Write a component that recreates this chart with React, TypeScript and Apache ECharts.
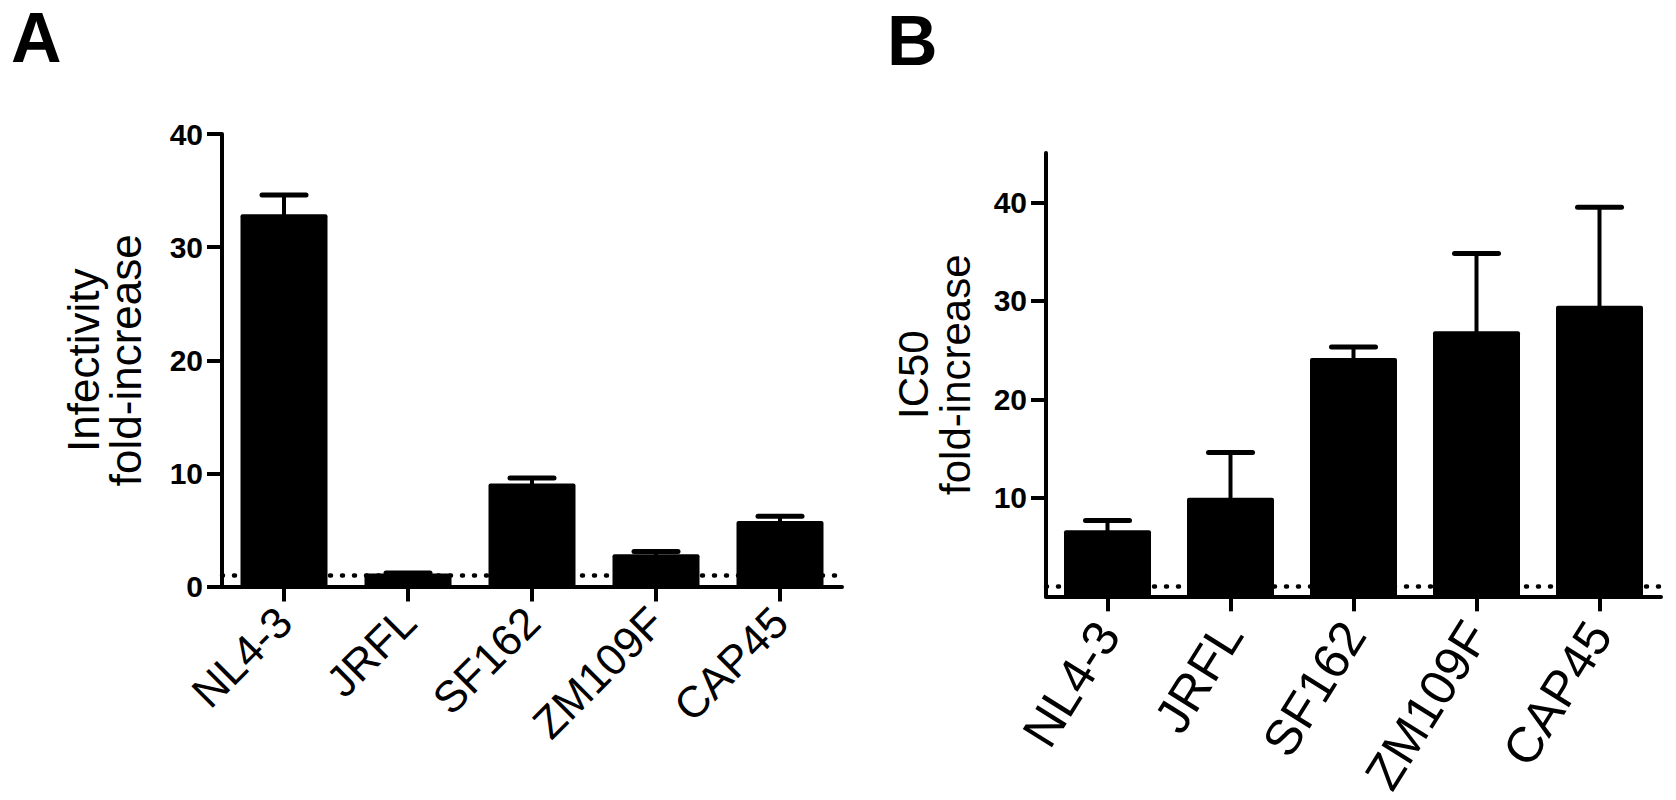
import React, { useEffect, useRef } from "react";
import * as echarts from "echarts";

const categories = ["NL4-3", "JRFL", "SF162", "ZM109F", "CAP45"];
const infectivityMean = [32.9, 1.15, 9.1, 2.85, 5.8];
const infectivityErr = [1.7, 0.05, 0.5, 0.25, 0.4];
const ic50Mean = [6.7, 10.0, 24.2, 26.9, 29.5];
const ic50Err = [1.0, 4.6, 1.1, 7.9, 10.0];
const yTicksA = [0, 10, 20, 30, 40];
const yTicksB = [10, 20, 30, 40];
const BASELINE = 1;

const FONT = "Liberation Sans, Arial, Helvetica, sans-serif";

const errRender = (params: any, api: any) => {
  const i = api.value(0);
  const mean = api.value(1);
  const err = api.value(2);
  const base = api.coord([i, mean]);
  const top = api.coord([i, mean + err]);
  const half = 22;
  return {
    type: "group",
    children: [
      {
        type: "line",
        shape: { x1: top[0], y1: base[1] + 2, x2: top[0], y2: top[1] },
        style: { stroke: "#000", lineWidth: 4 },
      },
      {
        type: "line",
        shape: { x1: top[0] - half, y1: top[1], x2: top[0] + half, y2: top[1] },
        style: { stroke: "#000", lineWidth: 5, lineCap: "round" },
      },
    ],
  };
};

function xAxisFor(gridIndex: number, rotate: number, fontSize: number, margin: number) {
  return {
    gridIndex,
    type: "category",
    data: categories,
    axisLine: { show: true, lineStyle: { color: "#000", width: 4 } },
    axisTick: { show: true, alignWithLabel: true, interval: 0, length: 15, lineStyle: { color: "#000", width: 4 } },
    axisLabel: { interval: 0, rotate, fontSize, color: "#000", fontFamily: FONT, margin },
    splitLine: { show: false },
  };
}

function yAxisFor(gridIndex: number, max: number, ticks: number[], name: string, nameGap: number, nameSize: number) {
  return {
    gridIndex,
    type: "value",
    min: 0,
    max,
    interval: 10,
    splitLine: { show: false },
    axisLine: { show: true, lineStyle: { color: "#000", width: 4 } },
    axisTick: { show: true, length: 15, customValues: ticks, lineStyle: { color: "#000", width: 4 } },
    axisLabel: { customValues: ticks, fontSize: 30, fontWeight: "bold", color: "#000", fontFamily: FONT, margin: 19 },
    name,
    nameLocation: "middle",
    nameRotate: 90,
    nameGap,
    nameTextStyle: { fontSize: nameSize, lineHeight: 42, color: "#000", fontFamily: FONT },
  };
}

function seriesFor(idx: number, mean: number[], err: number[]) {
  return [
    {
      type: "bar",
      xAxisIndex: idx,
      yAxisIndex: idx,
      data: mean,
      barWidth: 87,
      z: 3,
      itemStyle: { color: "#000", borderRadius: 2 },
      markLine: {
        z: 1,
        silent: true,
        symbol: ["none", "none"],
        label: { show: false },
        lineStyle: { color: "#000", type: [1, 11], width: 4.5, cap: "round" },
        data: [{ yAxis: BASELINE }],
      },
    },
    {
      type: "custom",
      xAxisIndex: idx,
      yAxisIndex: idx,
      z: 4,
      renderItem: errRender,
      encode: { x: 0, y: 1 },
      data: categories.map((_, i) => [i, mean[i], err[i]]),
    },
  ];
}

export default function App() {
  const ref = useRef<HTMLDivElement>(null);
  useEffect(() => {
    document.body.style.margin = "0";
    const chart = echarts.init(ref.current!, null, { renderer: "svg" });
    chart.setOption({
      animation: false,
      backgroundColor: "#fff",
      grid: [
        { left: 222, top: 134, width: 620, height: 452.5 },
        { left: 1046, top: 153, width: 615, height: 451 },
      ],
      xAxis: [xAxisFor(0, 45, 44, 28), xAxisFor(1, 58, 50, 30)],
      yAxis: [
        yAxisFor(0, 40, yTicksA, "Infectivity\nfold-increase", 76, 44),
        yAxisFor(1, 45, yTicksB, "IC50\nfold-increase", 70, 42),
      ],
      series: [...seriesFor(0, infectivityMean, infectivityErr), ...seriesFor(1, ic50Mean, ic50Err)],
      graphic: [
        { type: "text", left: 11, top: 3, style: { text: "A", fontSize: 70, fontWeight: "bold", fontFamily: FONT, fill: "#000" } },
        { type: "text", left: 887, top: 6, style: { text: "B", fontSize: 70, fontWeight: "bold", fontFamily: FONT, fill: "#000" } },
      ],
    });
    return () => chart.dispose();
  }, []);
  return <div ref={ref} style={{ width: 1676, height: 800 }} />;
}
